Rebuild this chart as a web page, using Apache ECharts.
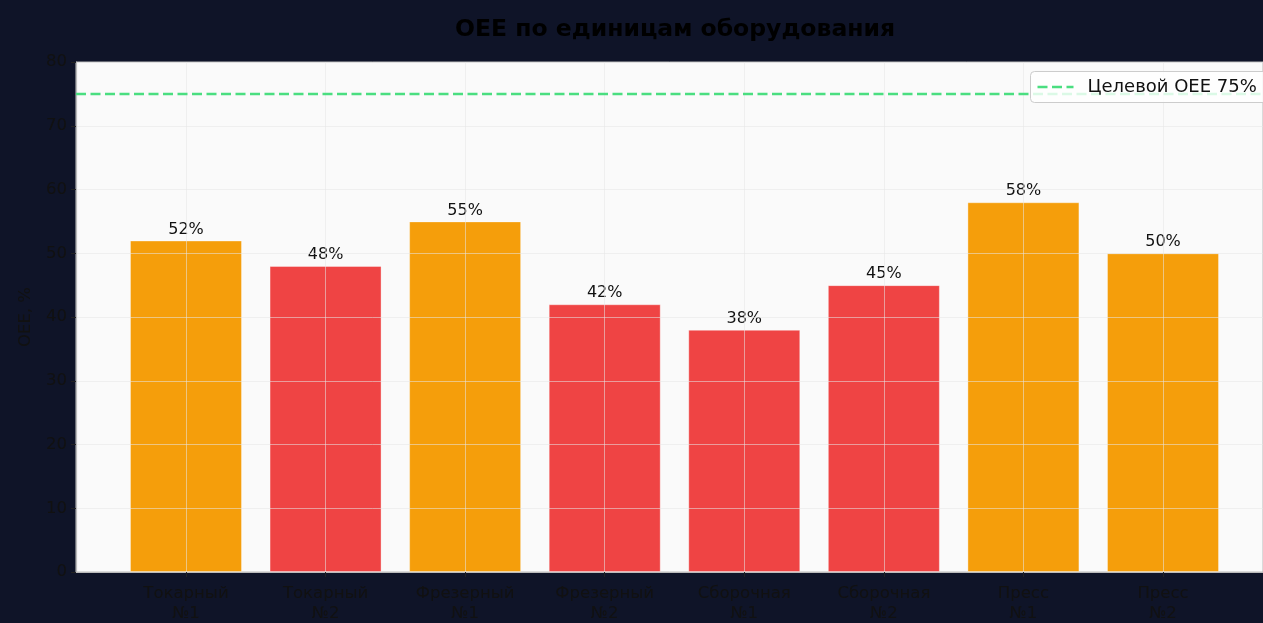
<!DOCTYPE html>
<html>
<head>
<meta charset="utf-8">
<script src="https://cdn.jsdelivr.net/npm/echarts@6/dist/echarts.min.js"></script>
<style>
  html, body { margin: 0; padding: 0; background: #0f1428; }
  #chart { width: 1263px; height: 623px; }
</style>
</head>
<body>
<div id="chart"></div>
<script>
// Equipment units and their OEE values, %
const categories = ['Токарный\n№1', 'Токарный\n№2', 'Фрезерный\n№1', 'Фрезерный\n№2',
                    'Сборочная\n№1', 'Сборочная\n№2', 'Пресс\n№1', 'Пресс\n№2'];
const oeeValues = [52, 48, 55, 42, 38, 45, 58, 50];
const targetOee = 75;
const targetLabel = 'Целевой OEE 75%';
const yTicks = [0, 10, 20, 30, 40, 50, 60, 70, 80];

const FONT = 'DejaVu Sans';
const ORANGE = '#f59e0b';
const RED = '#ef4444';
const GREEN = '#4ade80';
const GRID_LINE = 'rgba(229,229,229,0.55)';

const positions = categories.map((_, i) => i);
const barData = oeeValues.map((v, i) => ({
  value: [i, v],
  itemStyle: { color: v >= 50 ? ORANGE : RED }
}));
// x range: the plot runs on past the right edge of the canvas
const xMin = -0.788, xMax = categories.length - 1 + 0.7165;

const chart = echarts.init(document.getElementById('chart'), null, { renderer: 'canvas' });
chart.setOption({
  backgroundColor: '#0f1428',
  animation: false,
  title: {
    text: 'OEE по единицам оборудования',
    left: 670, top: 13, textAlign: 'center',
    textStyle: { fontFamily: FONT, fontSize: 23.5, fontWeight: 'bold', color: '#000' }
  },
  // legend box for the target line; it runs off the right edge like the plot
  graphic: [
    {
      type: 'group', left: 1030, top: 71, z: 100,
      children: [
        {
          type: 'rect', z: 100, shape: { x: 0, y: 0, width: 260, height: 31, r: 4 },
          style: { fill: 'rgba(255,255,255,0.8)', stroke: '#cccccc', lineWidth: 1 }
        },
        {
          type: 'line', z: 101, shape: { x1: 7, y1: 15.5, x2: 43, y2: 15.5 },
          style: { stroke: GREEN, lineWidth: 2.5, lineDash: [10, 4.5] }
        },
        {
          type: 'text', z: 101, x: 57, y: 15.5,
          style: {
            text: targetLabel, fontFamily: FONT, fontSize: 18, fill: '#111',
            verticalAlign: 'middle', align: 'left'
          }
        }
      ]
    }
  ],
  grid: {
    left: 76, top: 62, right: 0, height: 511,
    show: true, backgroundColor: '#fafafa', borderColor: '#bbbbbb', borderWidth: 1
  },
  xAxis: {
    type: 'value', min: xMin, max: xMax, z: 3,
    axisLine: { show: true, onZero: false, lineStyle: { color: '#bbbbbb', width: 1.2 } },
    axisTick: { show: true, customValues: positions, length: 5, lineStyle: { color: '#222' } },
    axisLabel: {
      customValues: positions,
      formatter: v => categories[Math.round(v)] || '',
      fontFamily: FONT, fontSize: 16.5, color: '#111', lineHeight: 19.5, margin: 12
    },
    splitLine: { show: true, lineStyle: { color: GRID_LINE, width: 1 } }
  },
  yAxis: {
    type: 'value', min: yTicks[0], max: yTicks[yTicks.length - 1], interval: 10, z: 3,
    name: 'OEE, %', nameLocation: 'middle', nameGap: 42, nameRotate: 90,
    nameTextStyle: { fontFamily: FONT, fontSize: 16.5, color: '#111' },
    axisLine: { show: true, onZero: false, lineStyle: { color: '#bbbbbb', width: 1.2 } },
    axisTick: { show: true, length: 5, lineStyle: { color: '#222' } },
    axisLabel: { fontFamily: FONT, fontSize: 16.5, color: '#111', margin: 9 },
    splitLine: { show: true, lineStyle: { color: GRID_LINE, width: 1 } }
  },
  series: [
    {
      type: 'bar', name: 'OEE',
      data: barData, barWidth: 112,
      itemStyle: { borderColor: 'rgba(255,255,255,0.35)', borderWidth: 1 },
      label: {
        show: true, position: 'top', distance: 3,
        formatter: p => p.value[1] + '%',
        fontFamily: FONT, fontSize: 16, color: '#111'
      }
    },
    {
      type: 'line', name: targetLabel,
      data: [[xMin, targetOee], [xMax, targetOee]],
      symbol: 'none', z: 4,
      lineStyle: { color: GREEN, width: 2.5, type: [10, 4.5] }
    }
  ]
});
</script>
</body>
</html>
